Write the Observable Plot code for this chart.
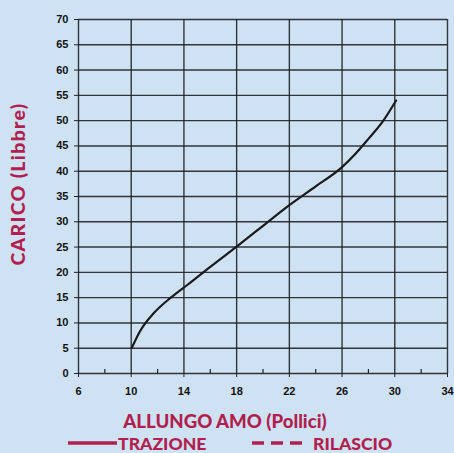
<!DOCTYPE html>
<html><head><meta charset="utf-8">
<script src="https://cdn.jsdelivr.net/npm/d3@7"></script>
<script src="https://cdn.jsdelivr.net/npm/@observablehq/plot@0.6"></script>
<style>
html,body{margin:0;padding:0;background:#cfe2f3;}
#wrap{width:454px;height:453px;overflow:hidden;position:relative}
.t{font-family:"Lato","Open Sans",sans-serif;font-weight:900;color:#b01f4e;position:absolute;white-space:nowrap;line-height:1}
</style></head>
<body><div id="wrap"></div>
<script>
const xTicks = [6, 10, 14, 18, 22, 26, 30, 34];
const yTicks = [0, 5, 10, 15, 20, 25, 30, 35, 40, 45, 50, 55, 60, 65, 70];
const minorX = [8, 12, 16, 20, 24, 28, 32];
const elong = [10.05, 10.7, 11.7, 13.0, 14.3, 16.0, 18.0, 20.0, 22.0, 24.0, 26.0, 27.0, 28.0, 29.05, 30.1];
const load  = [5.1, 8.5, 11.9, 15.0, 17.6, 21.1, 25.1, 29.2, 33.3, 37.0, 40.8, 43.4, 46.4, 49.7, 54.0];
const yTitle = "CARICO (Libbre)";
const xTitle = "ALLUNGO AMO (Pollici)";
const legendLabels = ["TRAZIONE", "RILASCIO"];

const data = elong.map((x, i) => ({x, y: load[i]}));
const ink = "#1f2226";
const red = "#b01f4e";
const chart = Plot.plot({
  width: 454, height: 405,
  marginTop: 19, marginBottom: 32, marginLeft: 78, marginRight: 7,
  style: {background: "transparent", fontFamily: "'Liberation Sans', Arial, sans-serif", fontSize: "11px", fontWeight: "bold", color: "#111"},
  x: {domain: [6, 34], ticks: xTicks, label: null},
  y: {domain: [0, 70], ticks: yTicks, label: null},
  marks: [
    Plot.gridX(xTicks, {stroke: ink, strokeOpacity: 0.9, strokeWidth: 1.4}),
    Plot.gridY(yTicks, {stroke: ink, strokeOpacity: 0.9, strokeWidth: 1.4}),
    Plot.ruleX(minorX, {x: d => d, y1: 0, y2: 0.8, stroke: ink, strokeWidth: 1.2}),
    Plot.axisX(xTicks, {tickSize: 4, tickPadding: 10, fontWeight: "bold", fontSize: 11, stroke: ink}),
    Plot.axisY(yTicks, {tickSize: 4, tickPadding: 6, fontWeight: "bold", fontSize: 11, stroke: ink}),
    Plot.line(data, {x: "x", y: "y", curve: "monotone-x", stroke: "#1a1a1a", strokeWidth: 2.2})
  ]
});
const wrap = document.getElementById("wrap");
wrap.appendChild(chart);
function addText(txt, left, top, size, center) {
  const d = document.createElement("div");
  d.className = "t"; d.textContent = txt;
  d.style.fontSize = size + "px"; d.style.top = top + "px";
  if (center) { d.style.left = (left - 200) + "px"; d.style.width = "400px"; d.style.textAlign = "center"; }
  else d.style.left = left + "px";
  wrap.appendChild(d);
  return d;
}
addText(xTitle, 225, 412, 18.6, true);
addText(legendLabels[0], 118, 435, 17.6, false);
addText(legendLabels[1], 313, 435, 17.6, false);
const yt = addText(yTitle, 18, 184, 19.5, true);
yt.style.top = "174px";
yt.style.letterSpacing = "1.3px";
yt.style.transformOrigin = "200px 10px";
yt.style.transform = "rotate(-90deg)";
const ns = "http://www.w3.org/2000/svg";
const lsvg = document.createElementNS(ns, "svg");
lsvg.setAttribute("width", 454); lsvg.setAttribute("height", 20);
lsvg.style.position = "absolute"; lsvg.style.left = "0"; lsvg.style.top = "433px";
lsvg.innerHTML = `<line x1="68" x2="117" y1="10" y2="10" stroke="${red}" stroke-width="3.5"/>
<line x1="252" x2="304" y1="10" y2="10" stroke="${red}" stroke-width="3.5" stroke-dasharray="12 7"/>`;
wrap.appendChild(lsvg);
</script></body></html>
